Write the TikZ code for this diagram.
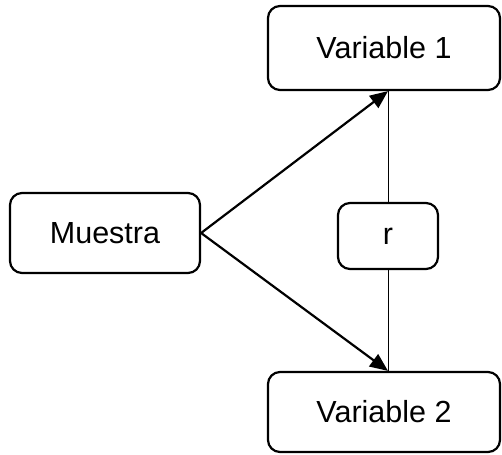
\documentclass[tikz,border=0pt]{standalone}
\usepackage{fontspec}
\setmainfont{Liberation Sans}
\usetikzlibrary{arrows.meta}
\begin{document}
\begin{tikzpicture}[x=1pt,y=-1pt,
 box/.style={draw, line width=2.2pt, rounded corners=12pt, font=\fontsize{30.5}{34}\selectfont, inner sep=0pt},
 arr/.style={line width=2.2pt, -{Triangle[length=18pt,width=15pt]}},
 link/.style={line width=0.9pt}]
\useasboundingbox (0,0) rectangle (502,454);
\node[box, minimum width=232pt, minimum height=84pt] (v1) at (384,48) {Variable 1};
\node[box, minimum width=232pt, minimum height=80pt] (v2) at (384,412) {Variable 2};
\node[box, minimum width=190pt, minimum height=80pt] (m) at (105,233) {Muestra};
\node[box, minimum width=100pt, minimum height=66pt] (r) at (388,236) {r};
\coordinate (t1) at (r.north |- v1.south);
\coordinate (t2) at (r.south |- v2.north);
\draw[link] (r.north) -- (t1);
\draw[link] (r.south) -- (t2);
\draw[arr] (m.east) -- (t1);
\draw[arr] (m.east) -- (t2);
\end{tikzpicture}
\end{document}
